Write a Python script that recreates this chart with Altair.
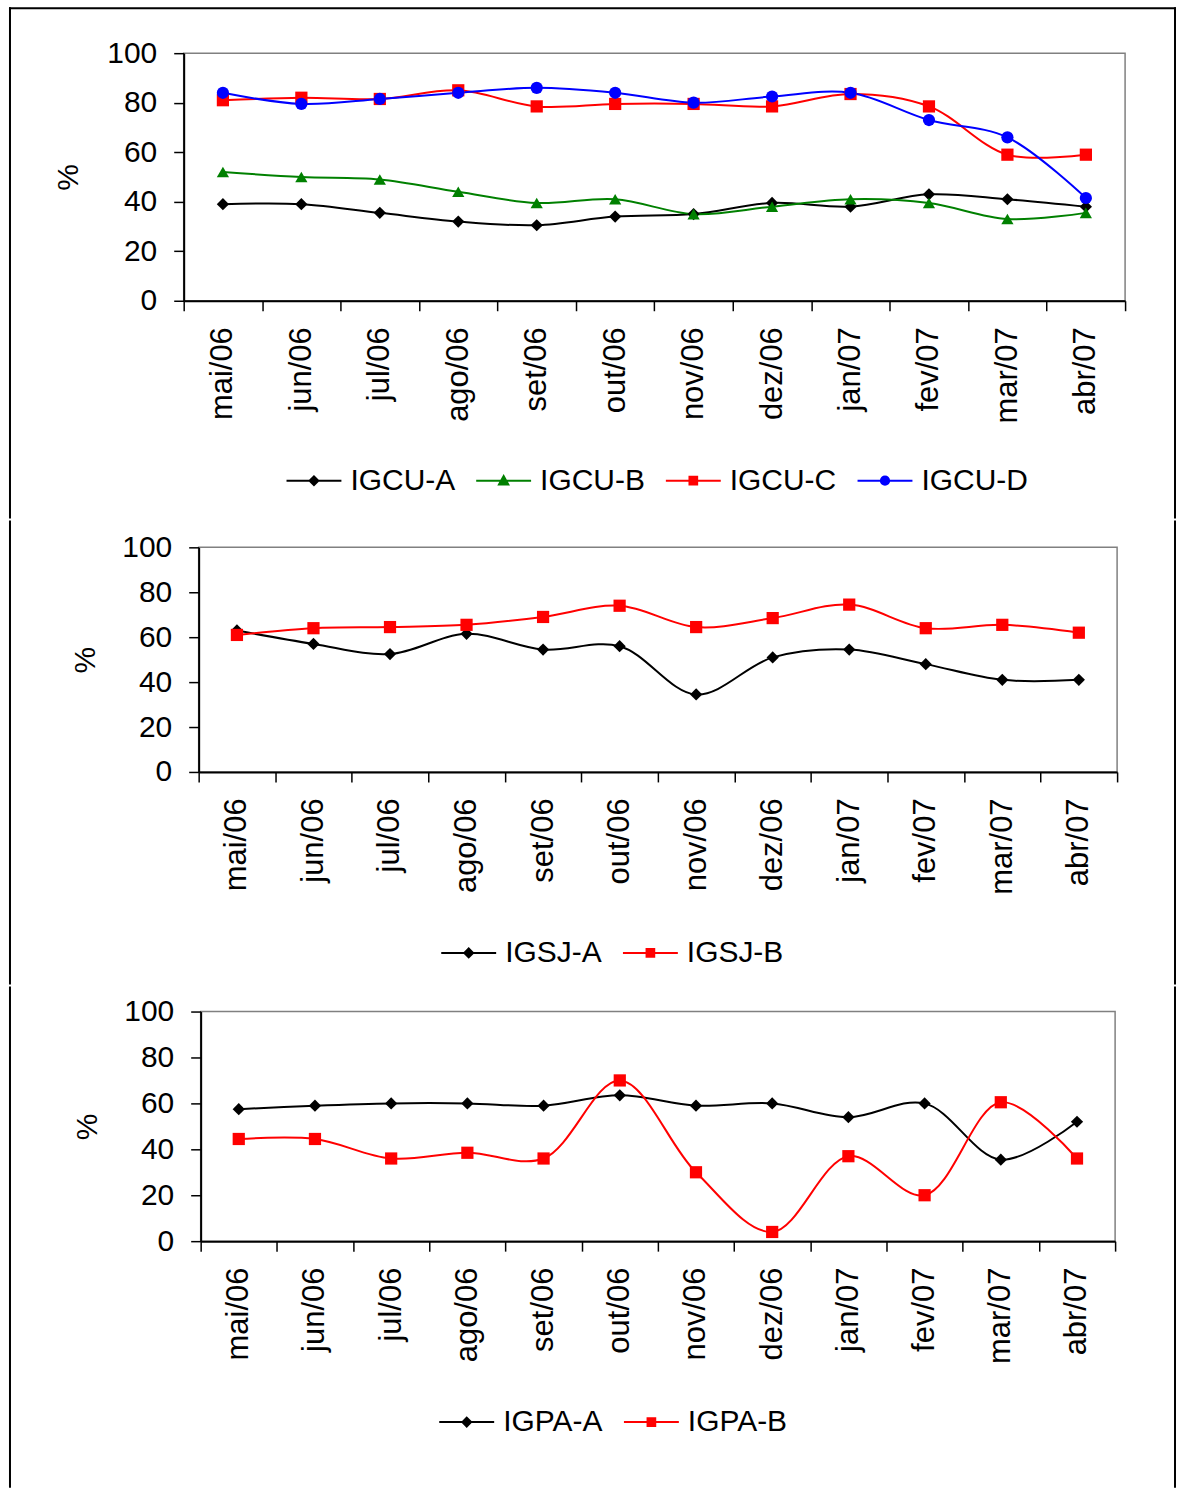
import altair as alt
import pandas as pd

FONT = "Liberation Sans"

months = ["mai/06", "jun/06", "jul/06", "ago/06", "set/06", "out/06",
          "nov/06", "dez/06", "jan/07", "fev/07", "mar/07", "abr/07"]

# Painel 1 - IGCU
igcu_names = ["IGCU-A", "IGCU-B", "IGCU-C", "IGCU-D"]
igcu_a = [39, 39, 35.5, 32, 30.5, 34, 35, 39.5, 38, 43, 41, 38]
igcu_b = [52, 50, 49, 44, 39.5, 41, 35, 38, 41, 39.5, 33, 35.5]
igcu_c = [81, 82, 81.5, 85, 78.5, 79.5, 79.5, 78.5, 83.5, 78.5, 59, 59]
igcu_d = [84, 79.5, 81.5, 84, 86, 84, 80, 82.5, 84, 73, 66, 41.5]

# Painel 2 - IGSJ
igsj_names = ["IGSJ-A", "IGSJ-B"]
igsj_a = [63, 57, 52.5, 61.5, 54.5, 56, 34.5, 51, 54.5, 48, 41, 41]
igsj_b = [61, 64, 64.5, 65.5, 69, 74, 64.5, 68.5, 74.5, 64, 65.5, 62]

# Painel 3 - IGPA
igpa_names = ["IGPA-A", "IGPA-B"]
igpa_a = [57.5, 59, 60, 60, 59, 63.5, 59, 60, 54, 60, 35.5, 52]
igpa_b = [44.5, 44.5, 36, 38.5, 36, 70, 30, 4, 37, 20, 60.5, 36]

BLACK, GREEN, RED, BLUE = "#000000", "#008000", "#FF0000", "#0000FF"

# marker shapes and the legend glyphs (line through a small marker)
MARK = {"A": "diamond", "B": "triangle-up", "C": "square", "D": "circle"}
GLYPH = {
    "diamond": "M-1,0H1M-0.16,0L0,-0.16L0.16,0L0,0.16Z",
    "triangle-up": "M-1,0H1M-0.17,0.14L0,-0.17L0.17,0.14Z",
    "square": "M-1,0H1M-0.14,-0.14H0.14V0.14H-0.14Z",
    "circle": "M-1,0H1M-0.15,0A0.15,0.15,0,1,0,0.15,0A0.15,0.15,0,1,0,-0.15,0Z",
}


def ternary(names, outs):
    expr = f"'{outs[-1]}'"
    for n, o in reversed(list(zip(names[:-1], outs[:-1]))):
        expr = f"datum.value === '{n}' ? '{o}' : {expr}"
    return expr


def frame(boxes):
    """Black page frame bars (x1, x2, y1, y2 in pixels from the plot origin)."""
    out = []
    for x1, x2, y1, y2 in boxes:
        out.append(
            alt.Chart(alt.Data(values=[{"k": 1}]))
            .mark_rect(color="black", opacity=1)
            .encode(x=alt.value(x1), x2=alt.value(x2),
                    y=alt.value(y1), y2=alt.value(y2))
        )
    return out


def spacer():
    """Empty first-column cell, so each panel is placed by its own extent."""
    return (
        alt.Chart(alt.Data(values=[{"k": 1}]))
        .mark_rect(opacity=0)
        .encode(x=alt.value(0), x2=alt.value(0),
                y=alt.value(0), y2=alt.value(0))
        .properties(width=1, height=1,
                    view=alt.ViewBackground(strokeWidth=0))
    )


def panel(names, series, colors, shapes, width, height, title_x,
          legend_x, legend_y, boxes):
    rows = []
    for name, vals in zip(names, series):
        for i, (m, v) in enumerate(zip(months, vals)):
            rows.append({"serie": name, "mes": m, "idx": i, "valor": v})
    df = pd.DataFrame(rows)

    x = alt.X(
        "mes:N", sort=months,
        scale=alt.Scale(type="band", paddingInner=0, paddingOuter=0),
        axis=alt.Axis(
            title=None, labelAngle=270, labelFont=FONT, labelFontSize=31,
            labelColor="black", labelPadding=16, tickBand="extent",
            tickSize=10, tickColor="black", tickWidth=1.5,
            domainColor="black", domainWidth=2, labelOverlap=False,
        ),
    )
    y = alt.Y(
        "valor:Q",
        scale=alt.Scale(domain=[0, 100], nice=False),
        axis=alt.Axis(
            values=[0, 20, 40, 60, 80, 100], title="%", titleFont=FONT,
            titleFontSize=30, titleFontWeight="normal", titleColor="black",
            titleAngle=270, titleBaseline="middle", titleAlign="center",
            titleX=title_x, labelFont=FONT, labelFontSize=30,
            labelColor="black", labelPadding=17, tickSize=10,
            tickColor="black", tickWidth=1.5, domainColor="black",
            domainWidth=2, grid=False,
        ),
    )
    glyphs = [GLYPH[s] for s in shapes]
    legend = alt.Legend(
        orient="none", legendX=legend_x, legendY=legend_y,
        direction="horizontal", title=None, symbolSize=3025,
        symbolType={"expr": ternary(names, glyphs)},
        symbolFillColor={"expr": ternary(names, colors)},
        symbolStrokeColor={"expr": ternary(names, colors)},
        symbolOpacity=1,
        labelFont=FONT, labelFontSize=30, labelColor="black",
        labelOffset=8, columnPadding=17, symbolStrokeWidth=2,
    )
    color = alt.Color("serie:N", sort=names,
                      scale=alt.Scale(domain=names, range=colors),
                      legend=legend)
    # marker scale listed in reverse so it stays a separate, hidden legend
    shape = alt.Shape("serie:N",
                      scale=alt.Scale(domain=names[::-1], range=shapes[::-1]),
                      legend=None)
    base = alt.Chart(df)
    lines = base.mark_line(interpolate="catmull-rom", strokeWidth=2).encode(
        x=x, y=y, color=color, order=alt.Order("idx:Q"))
    pts = base.mark_point(filled=True, size=150, opacity=1).encode(
        x=x, y=y, color=color, shape=shape)
    return alt.layer(*frame(boxes), lines, pts).properties(
        width=width, height=height)


# plot origins: (183, 53), (198, 547), (200, 1011)
# frame bars: x 8-10 and 1175-1177, top y 7-9, bottom beyond the page
p1 = panel(
    igcu_names, [igcu_a, igcu_b, igcu_c, igcu_d],
    [BLACK, GREEN, RED, BLUE],
    [MARK["A"], MARK["B"], MARK["C"], MARK["D"]],
    943, 248, -115, 102, 399.5,
    [(-175, 994, -46, -44), (-175, -173, -46, 466), (992, 994, -46, 466)],
)

p2 = panel(
    igsj_names, [igsj_a, igsj_b], [BLACK, RED],
    [MARK["A"], MARK["C"]],
    920, 225, -113, 242, 377.5,
    [(-190, -188, -27, 438), (977, 979, -27, 438)],
)

p3 = panel(
    igpa_names, [igpa_a, igpa_b], [BLACK, RED],
    [MARK["A"], MARK["C"]],
    916, 230, -113, 238, 382.5,
    [(-192, -190, -25, 477), (975, 977, -25, 477)],
)

chart = (
    alt.concat(spacer(), p1, spacer(), p2, spacer(), p3,
               columns=2, spacing=0, align="none", bounds="full")
    .resolve_scale(color="independent", shape="independent",
                   x="independent", y="independent")
    .resolve_legend(color="independent", shape="independent")
    .properties(padding={"left": 7, "top": 5, "right": 0, "bottom": 0},
                background="white")
    .configure(font=FONT)
    .configure_view(stroke="#808080", strokeWidth=1.5)
)

chart.save("out.html", embed_options={"renderer": "svg", "actions": False})
